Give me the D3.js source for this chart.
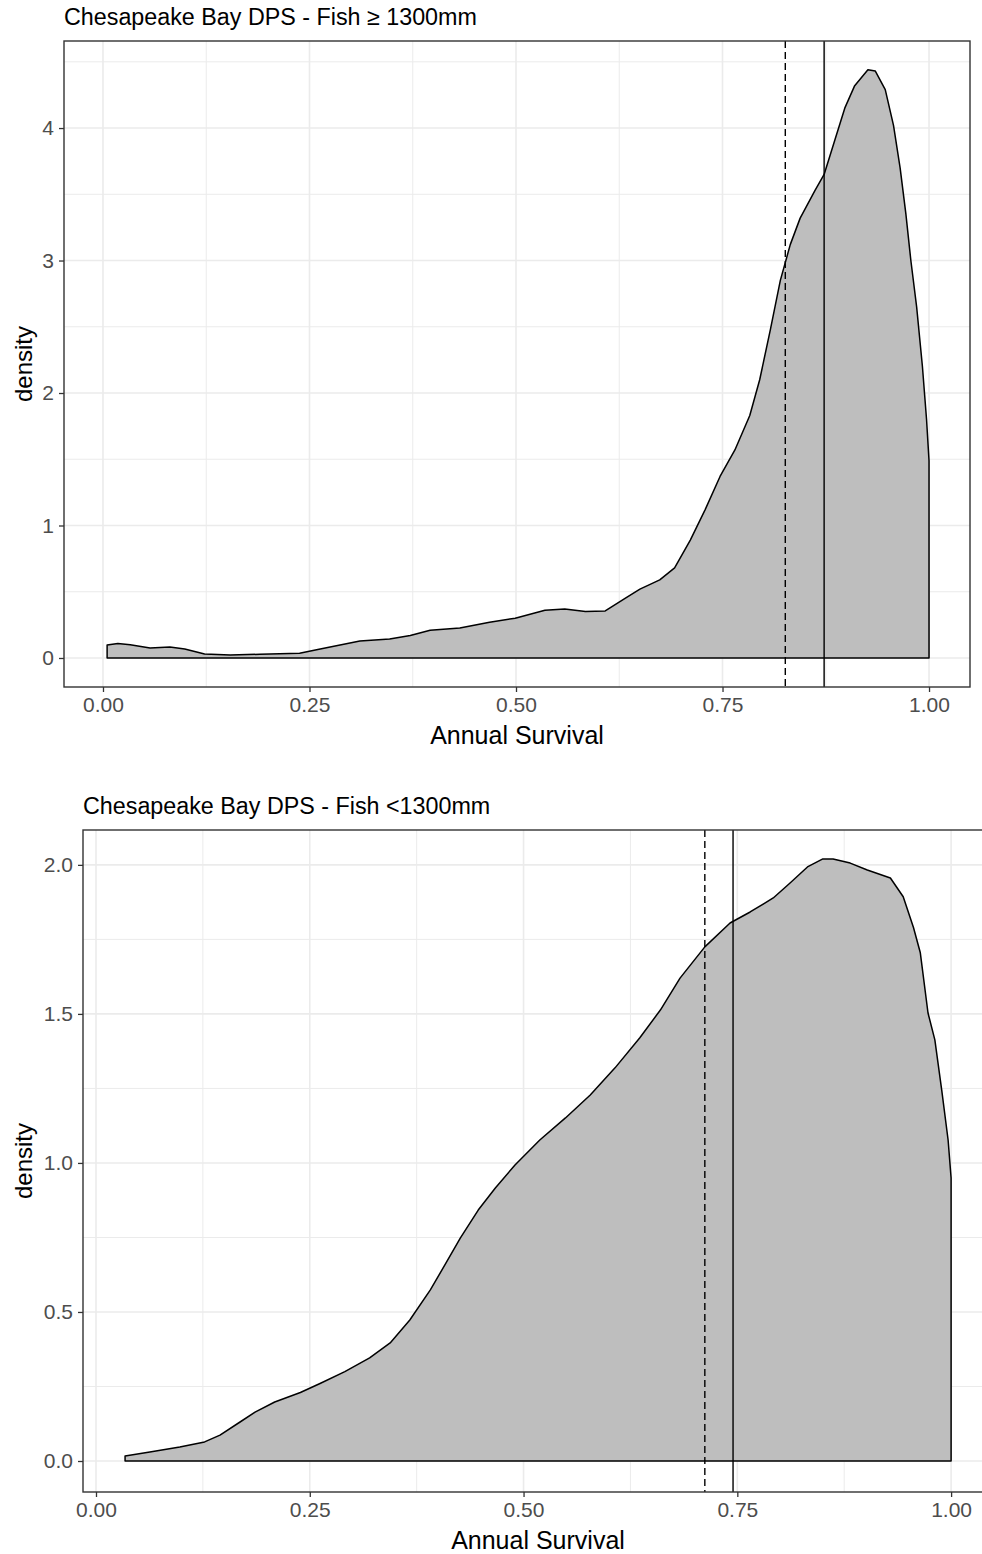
<!DOCTYPE html>
<html>
<head>
<meta charset="utf-8">
<script src="https://cdn.jsdelivr.net/npm/d3@7"></script>
<style>
  html, body { margin: 0; padding: 0; background: #ffffff; }
  svg { display: block; }
  text { font-family: "Liberation Sans", Arial, sans-serif; }
</style>
</head>
<body>
<svg id="chart" width="982" height="1554"></svg>
<script>
// ---------------- DATA ----------------
const xTickValues = [0, 0.25, 0.5, 0.75, 1.0];
const xTickLabels = ["0.00", "0.25", "0.50", "0.75", "1.00"];

// Panel 1: Fish >= 1300mm
const titleTop = "Chesapeake Bay DPS - Fish \u2265 1300mm";
const survivalTop = [0.005, 0.018, 0.033, 0.057, 0.081, 0.099, 0.123, 0.154, 0.19, 0.238,
  0.263, 0.287, 0.311, 0.347, 0.372, 0.396, 0.432, 0.468, 0.499, 0.535,
  0.559, 0.584, 0.608, 0.632, 0.650, 0.674, 0.692, 0.711, 0.729, 0.747,
  0.765, 0.783, 0.795, 0.808, 0.820, 0.832, 0.844, 0.862, 0.873, 0.886,
  0.898, 0.910, 0.926, 0.935, 0.947, 0.957, 0.965, 0.972, 0.978, 0.985,
  0.992, 0.997, 1.000];
const densityTop = [0.098, 0.11, 0.10, 0.075, 0.083, 0.068, 0.03, 0.023, 0.028, 0.035,
  0.068, 0.098, 0.128, 0.143, 0.17, 0.21, 0.226, 0.27, 0.30, 0.36,
  0.37, 0.35, 0.355, 0.45, 0.52, 0.59, 0.68, 0.89, 1.12, 1.37,
  1.57, 1.83, 2.10, 2.48, 2.85, 3.12, 3.32, 3.53, 3.65, 3.91,
  4.15, 4.32, 4.44, 4.43, 4.29, 4.02, 3.70, 3.35, 3.00, 2.65,
  2.20, 1.80, 1.49];
const yTickValuesTop = [0, 1, 2, 3, 4];
const yTickLabelsTop = ["0", "1", "2", "3", "4"];
const dashedLineTop = 0.826;
const solidLineTop = 0.873;

// Panel 2: Fish < 1300mm
const titleBottom = "Chesapeake Bay DPS - Fish <1300mm";
const survivalBottom = [0.034, 0.063, 0.098, 0.127, 0.145, 0.168, 0.186, 0.209, 0.239, 0.262,
  0.291, 0.320, 0.344, 0.367, 0.391, 0.408, 0.426, 0.447, 0.467, 0.490,
  0.519, 0.549, 0.578, 0.607, 0.636, 0.660, 0.683, 0.712, 0.7415, 0.765,
  0.792, 0.812, 0.832, 0.850, 0.862, 0.882, 0.902, 0.929, 0.944, 0.956,
  0.964, 0.973, 0.981, 0.989, 0.9965, 1.000];
const densityBottom = [0.017, 0.03, 0.047, 0.064, 0.087, 0.13, 0.164, 0.198, 0.23, 0.26,
  0.30, 0.346, 0.396, 0.473, 0.574, 0.658, 0.748, 0.842, 0.916, 0.993,
  1.077, 1.151, 1.228, 1.319, 1.42, 1.513, 1.62, 1.725, 1.805, 1.842,
  1.889, 1.94, 1.993, 2.02, 2.02, 2.006, 1.983, 1.956, 1.893, 1.79,
  1.705, 1.503, 1.413, 1.245, 1.077, 0.95];
const yTickValuesBottom = [0, 0.5, 1.0, 1.5, 2.0];
const yTickLabelsBottom = ["0.0", "0.5", "1.0", "1.5", "2.0"];
const dashedLineBottom = 0.712;
const solidLineBottom = 0.745;

const xAxisTitle = "Annual Survival";
const yAxisTitle = "density";

// ---------------- DRAW ----------------
const svg = d3.select("#chart");

function panel(cfg) {
  const { left, right, top, bottom, xDomain, yDomain, xs, ys, yTicks, yLabels,
          dashed, solid, title, titleY, minorY } = cfg;
  const x = d3.scaleLinear().domain(xDomain).range([left, right]);
  const y = d3.scaleLinear().domain(yDomain).range([bottom, top]);
  const g = svg.append("g");

  const clipId = "clip" + Math.round(top);
  g.append("clipPath").attr("id", clipId)
    .append("rect").attr("x", left).attr("y", top)
    .attr("width", right - left).attr("height", bottom - top);
  const inner = g.append("g").attr("clip-path", `url(#${clipId})`);

  // minor grid
  const minorX = [];
  for (let i = 0; i < xTickValues.length - 1; i++) minorX.push((xTickValues[i] + xTickValues[i + 1]) / 2);
  inner.selectAll(".mgx").data(minorX).join("line")
    .attr("x1", d => x(d)).attr("x2", d => x(d)).attr("y1", top).attr("y2", bottom)
    .attr("stroke", "#ebebeb").attr("stroke-width", 1);
  inner.selectAll(".mgy").data(minorY).join("line")
    .attr("y1", d => y(d)).attr("y2", d => y(d)).attr("x1", left).attr("x2", right)
    .attr("stroke", "#ebebeb").attr("stroke-width", 1);
  // major grid
  inner.selectAll(".gx").data(xTickValues).join("line")
    .attr("x1", d => x(d)).attr("x2", d => x(d)).attr("y1", top).attr("y2", bottom)
    .attr("stroke", "#ebebeb").attr("stroke-width", 1.6);
  inner.selectAll(".gy").data(yTicks).join("line")
    .attr("y1", d => y(d)).attr("y2", d => y(d)).attr("x1", left).attr("x2", right)
    .attr("stroke", "#ebebeb").attr("stroke-width", 1.6);

  // density polygon
  const pts = xs.map((v, i) => [v, ys[i]]);
  const poly = [[xs[0], 0], ...pts, [xs[xs.length - 1], 0]];
  const line = d3.line().x(d => x(d[0])).y(d => y(d[1])).curve(d3.curveLinear);
  inner.append("path").attr("d", line(poly) + "Z")
    .attr("fill", "#bebebe").attr("stroke", "#000").attr("stroke-width", 1.5)
    .attr("stroke-linejoin", "round");

  // vertical lines
  inner.append("line").attr("x1", x(dashed)).attr("x2", x(dashed)).attr("y1", top).attr("y2", bottom)
    .attr("stroke", "#000").attr("stroke-width", 1.4).attr("stroke-dasharray", "7,4");
  inner.append("line").attr("x1", x(solid)).attr("x2", x(solid)).attr("y1", top).attr("y2", bottom)
    .attr("stroke", "#000").attr("stroke-width", 1.4);

  // border
  g.append("rect").attr("x", left).attr("y", top).attr("width", right - left).attr("height", bottom - top)
    .attr("fill", "none").attr("stroke", "#333333").attr("stroke-width", 1.4);

  // x axis
  const xAxis = d3.axisBottom(x).tickValues(xTickValues)
    .tickFormat((d, i) => xTickLabels[i]).tickSize(5).tickPadding(5);
  const xg = g.append("g").attr("transform", `translate(0,${bottom})`).call(xAxis);
  xg.select(".domain").remove();
  xg.selectAll(".tick line").attr("stroke", "#333333").attr("stroke-width", 1.3);
  xg.selectAll(".tick text").attr("fill", "#4d4d4d").attr("font-size", 21)
    .attr("font-family", "Liberation Sans, Arial, sans-serif");

  // y axis
  const yAxis = d3.axisLeft(y).tickValues(yTicks)
    .tickFormat((d, i) => yLabels[i]).tickSize(5).tickPadding(5);
  const yg = g.append("g").attr("transform", `translate(${left},0)`).call(yAxis);
  yg.select(".domain").remove();
  yg.selectAll(".tick line").attr("stroke", "#333333").attr("stroke-width", 1.3);
  yg.selectAll(".tick text").attr("fill", "#4d4d4d").attr("font-size", 21)
    .attr("font-family", "Liberation Sans, Arial, sans-serif");

  // titles
  g.append("text").attr("x", left).attr("y", titleY).attr("font-size", 23.3)
    .attr("fill", "#000").text(title);
  g.append("text").attr("x", (left + right) / 2).attr("y", bottom + 57)
    .attr("text-anchor", "middle").attr("font-size", 25).attr("fill", "#000").text(xAxisTitle);
  g.append("text").attr("transform", `translate(32,${(top + bottom) / 2}) rotate(-90)`)
    .attr("text-anchor", "middle").attr("font-size", 24).attr("fill", "#000").text(yAxisTitle);
}

panel({
  left: 64, right: 970, top: 41, bottom: 687,
  xDomain: [-0.0472, 1.0496], yDomain: [-0.219, 4.657],
  xs: survivalTop, ys: densityTop, yTicks: yTickValuesTop, yLabels: yTickLabelsTop,
  dashed: dashedLineTop, solid: solidLineTop, title: titleTop, titleY: 25,
  minorY: [0.5, 1.5, 2.5, 3.5, 4.5]
});

panel({
  left: 83, right: 993, top: 830, bottom: 1492,
  xDomain: [-0.0152, 1.049], yDomain: [-0.104, 2.117],
  xs: survivalBottom, ys: densityBottom, yTicks: yTickValuesBottom, yLabels: yTickLabelsBottom,
  dashed: dashedLineBottom, solid: solidLineBottom, title: titleBottom, titleY: 814,
  minorY: [0.25, 0.75, 1.25, 1.75]
});
</script>
</body>
</html>
